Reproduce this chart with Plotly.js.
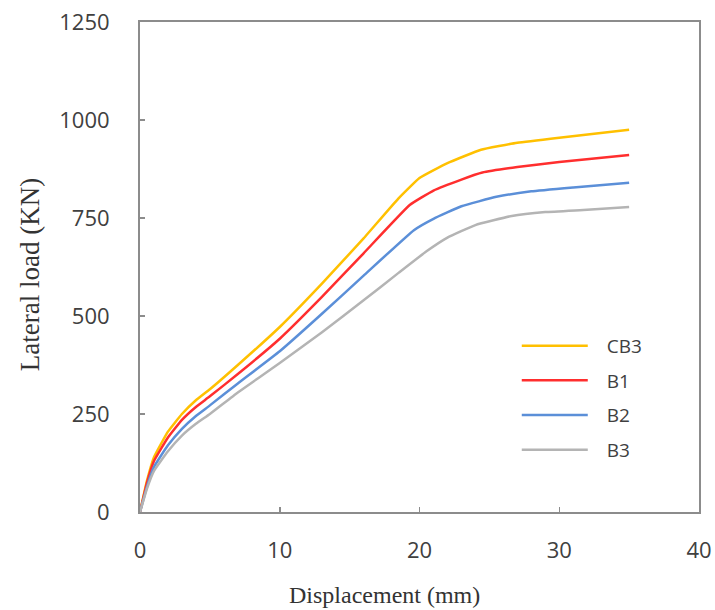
<!DOCTYPE html>
<html>
<head>
<meta charset="utf-8">
<script src="https://cdn.plot.ly/plotly-3.0.1.min.js"></script>
<style>html,body{margin:0;padding:0;background:#fff;}#chart{width:715px;height:610px;}</style>
</head>
<body>
<div id="chart"></div>
<script>
// Displacement (mm) / Lateral load (KN)
const seriesNames = ["CB3", "B1", "B2", "B3"];

const cb3X = [0, 0.5, 1, 2, 3, 4, 5, 7, 10, 13, 16, 18.5, 20, 22, 24.4, 27, 30, 35];
const cb3Y = [0, 80, 140, 205, 250, 285, 313, 375, 472, 582, 698, 800, 852, 890, 924, 942, 955, 975];

const b1X = [0, 0.5, 1, 2, 3, 4, 5, 7, 10, 13, 16, 19.3, 21, 23, 24.5, 27, 30, 35];
const b1Y = [0, 75, 130, 190, 235, 268, 295, 352, 442, 548, 660, 783, 820, 848, 866, 880, 893, 911];

const b2X = [0, 0.5, 1, 2, 3, 4, 5, 7, 10, 13, 16, 19.6, 21, 23, 25.5, 28, 31, 35];
const b2Y = [0, 65, 115, 170, 212, 245, 272, 328, 410, 505, 603, 719, 748, 780, 804, 818, 828, 840];

const b3X = [0, 0.5, 1, 2, 3, 4, 5, 7, 10, 13, 16, 18.5, 20.5, 22, 24, 26.6, 29, 32, 35];
const b3Y = [0, 60, 105, 155, 195, 225, 250, 305, 380, 458, 540, 610, 665, 700, 732, 755, 765, 771, 778];

const xTicks = [0, 10, 20, 30, 40];
const yTicks = [0, 250, 500, 750, 1000, 1250];

const colors = ["#FFC000", "#FF2E2E", "#5B8FD8", "#B4B4B4"];
const xs = [cb3X, b1X, b2X, b3X];
const ys = [cb3Y, b1Y, b2Y, b3Y];

const traces = seriesNames.map((n, i) => ({
  x: xs[i], y: ys[i], name: n, type: "scatter", mode: "lines",
  legendgroup: n,
  line: {color: colors[i], width: 2.5, shape: "spline", smoothing: 0.35}
}));

const axisCommon = {
  showline: true, mirror: true, linecolor: "#8c8c8c", linewidth: 2,
  ticks: "inside", ticklen: 5, tickcolor: "#8c8c8c", tickwidth: 1.5,
  showgrid: false, zeroline: false,
  tickfont: {family: "Open Sans", size: 22, color: "#404040"}
};

const layout = {
  width: 715, height: 610,
  margin: {l: 140, r: 16, t: 22, b: 98},
  paper_bgcolor: "#fff", plot_bgcolor: "#fff",
  showlegend: true,
  legend: {
    x: 0.674, xanchor: "left", y: 0.378, yanchor: "top",
    font: {family: "Open Sans", size: 19, color: "#404040"},
    itemwidth: 80, tracegroupgap: 7, bgcolor: "rgba(0,0,0,0)"
  },
  xaxis: Object.assign({}, axisCommon, {
    range: [0, 40], tickvals: xTicks, ticklabelstandoff: 18
  }),
  yaxis: Object.assign({}, axisCommon, {
    range: [0, 1250], tickvals: yTicks, ticklabelstandoff: 24
  }),
  annotations: [
    {text: "Displacement (mm)", xref: "paper", yref: "paper", x: 0.438, y: -0.17,
     xanchor: "center", yanchor: "middle", showarrow: false,
     font: {family: "Liberation Serif", size: 24, color: "#333"}},
    {text: "Lateral load (KN)", xref: "paper", yref: "paper", x: -0.197, y: 0.485,
     xanchor: "center", yanchor: "middle", showarrow: false, textangle: -90,
     font: {family: "Liberation Serif", size: 27, color: "#333"}}
  ]
};

Plotly.newPlot("chart", traces, layout, {displayModeBar: false, staticPlot: true}).then(() => {
  document.querySelectorAll(".legendlines path").forEach(p => p.setAttribute("d", "M5,0h66"));
});
</script>
</body>
</html>
